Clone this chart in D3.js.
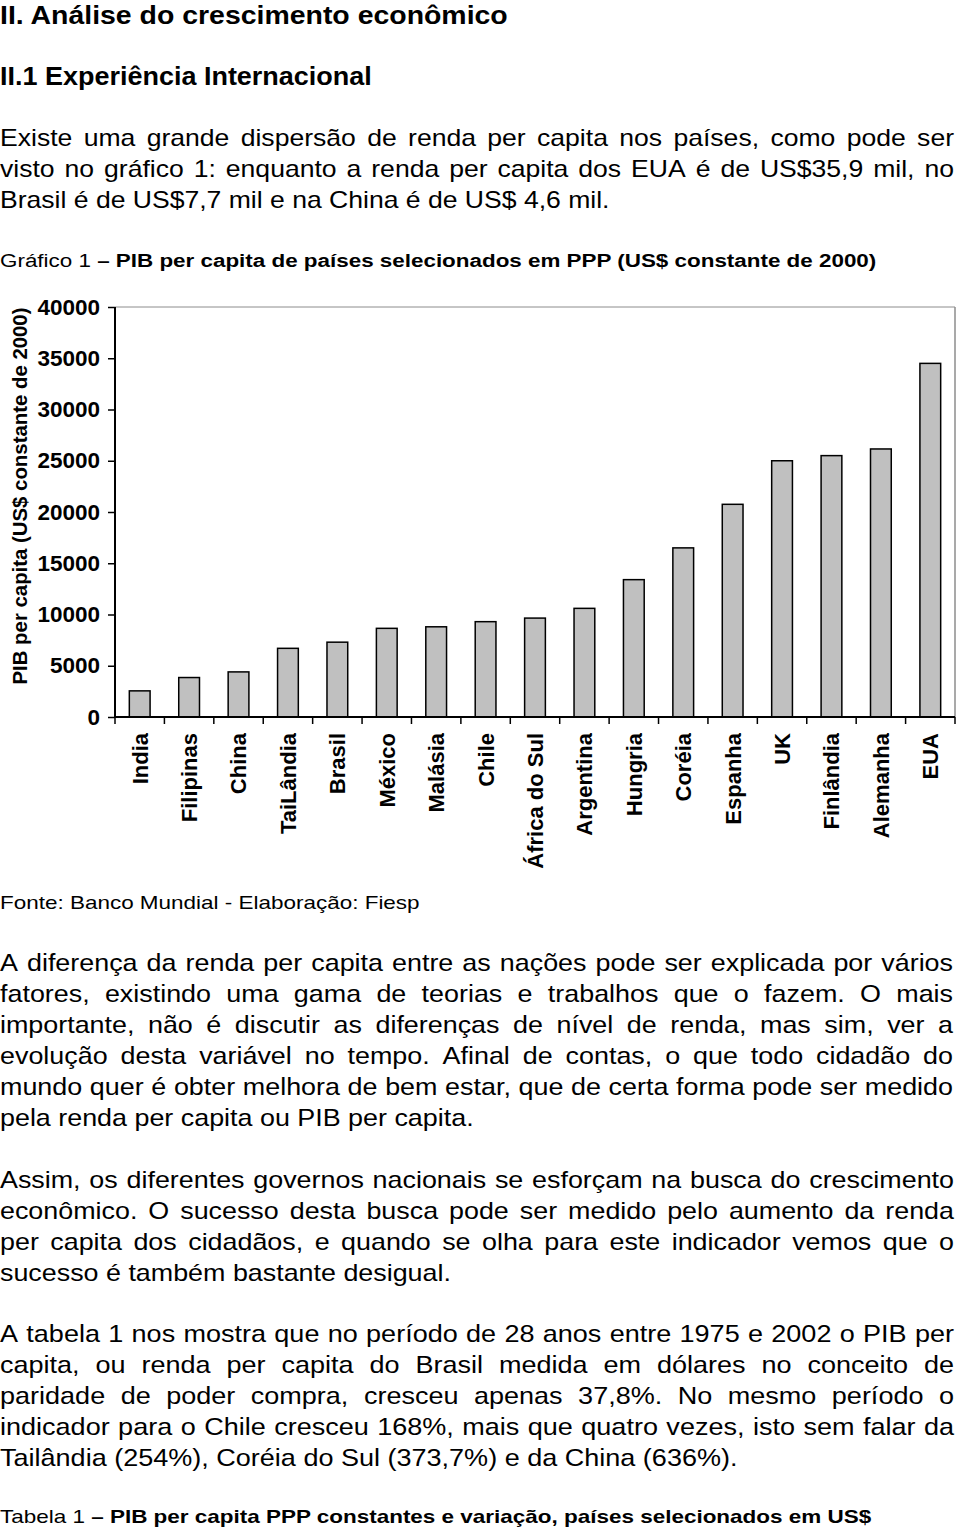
<!DOCTYPE html>
<html><head><meta charset="utf-8">
<script src="https://cdn.jsdelivr.net/npm/d3@7"></script>
<style>html,body{margin:0;padding:0;background:#fff;} svg{display:block;}</style>
</head><body>
<svg id="page" width="960" height="1528"></svg>
<script>
// ---------- DATA ----------
const categories = ["India","Filipinas","China","TaiLândia","Brasil","México","Malásia","Chile","África do Sul","Argentina","Hungria","Coréia","Espanha","UK","Finlândia","Alemanha","EUA"];
const values = [2550,3850,4400,6700,7300,8650,8800,9300,9650,10600,13400,16500,20750,25000,25500,26150,34500];
const yTicks = [0,5000,10000,15000,20000,25000,30000,35000,40000];
const yTitle = "PIB per capita (US$ constante de 2000)";

const heading1 = "II. Análise do crescimento econômico";
const heading2 = "II.1 Experiência Internacional";
const para1 = [
  "Existe uma grande dispersão de renda per capita nos países, como pode ser",
  "visto no gráfico 1: enquanto a renda per capita dos EUA é de US$35,9 mil, no",
  "Brasil é de US$7,7 mil e na China é de US$ 4,6 mil."
];
const chartTitleA = "Gráfico 1 ";
const chartTitleB = "– PIB per capita de países selecionados em PPP (US$ constante de 2000)";
const source = "Fonte: Banco Mundial - Elaboração: Fiesp";
const para2 = [
  "A diferença da renda per capita entre as nações pode ser explicada por vários",
  "fatores, existindo uma gama de teorias e trabalhos que o fazem. O mais",
  "importante, não é discutir as diferenças de nível de renda, mas sim, ver a",
  "evolução desta variável no tempo. Afinal de contas, o que todo cidadão do",
  "mundo quer é obter melhora de bem estar, que de certa forma pode ser medido",
  "pela renda per capita ou PIB per capita."
];
const para3 = [
  "Assim, os diferentes governos nacionais se esforçam na busca do crescimento",
  "econômico. O sucesso desta busca pode ser medido pelo aumento da renda",
  "per capita dos cidadãos, e quando se olha para este indicador vemos que o",
  "sucesso é também bastante desigual."
];
const para4 = [
  "A tabela 1 nos mostra que no período de 28 anos entre 1975 e 2002 o PIB per",
  "capita, ou renda per capita do Brasil medida em dólares no conceito de",
  "paridade de poder compra, cresceu apenas 37,8%. No mesmo período o",
  "indicador para o Chile cresceu 168%, mais que quatro vezes, isto sem falar da",
  "Tailândia (254%), Coréia do Sul (373,7%) e da China (636%)."
];
const tableTitleA = "Tabela 1 ";
const tableTitleB = "– PIB per capita PPP constantes e variação, países selecionados em US$";

(function () {
// ---------- LAYOUT ----------
const svg = d3.select("#page");
const FONT = "'Liberation Sans', Arial, sans-serif";

function scaledText(txt, x, y, w, size, weight) {
  const g = svg.append("g");
  const t = g.append("text").attr("font-family", FONT).attr("font-size", size)
    .attr("font-weight", weight || "normal").attr("fill", "#000").text(txt);
  const n = t.node().getComputedTextLength();
  const s = w / n;
  g.attr("transform", `translate(${x},${y}) scale(${s},1)`);
  return s;
}
function mixedText(a, b, x, y, w, size) {
  const g = svg.append("g");
  const t = g.append("text").attr("font-family", FONT).attr("font-size", size).attr("fill", "#000");
  t.append("tspan").text(a);
  t.append("tspan").attr("font-weight", "bold").text(b);
  const n = t.node().getComputedTextLength();
  g.attr("transform", `translate(${x},${y}) scale(${w / n},1)`);
}
function paragraph(lines, y0, lh, lastW, W, size) {
  const lastY = y0 + lh * (lines.length - 1);
  const sx = scaledText(lines[lines.length - 1], 0, lastY, lastW, size);
  lines.slice(0, -1).forEach((line, i) => {
    const g = svg.append("g").attr("transform", `translate(0,${y0 + lh * i}) scale(${sx},1)`);
    const words = line.split(" ");
    const nodes = words.map(wd => g.append("text").attr("font-family", FONT)
      .attr("font-size", size).attr("fill", "#000").text(wd));
    const widths = nodes.map(nd => nd.node().getComputedTextLength());
    const total = d3.sum(widths);
    const gap = (W / sx - total) / (words.length - 1);
    let cx = 0;
    nodes.forEach((nd, k) => { nd.attr("x", cx); cx += widths[k] + gap; });
  });
}

const BODY = 24;
scaledText(heading1, 0, 24, 508, 25, "bold");
scaledText(heading2, 0, 85, 372, 25, "bold");
paragraph(para1, 146, 31, 610, 954, BODY);
mixedText(chartTitleA, chartTitleB, 0, 267, 877, 19);
scaledText(source, 0, 909, 420, 19);
paragraph(para2, 971, 31, 474, 953, BODY);
paragraph(para3, 1188, 31, 451, 954, BODY);
paragraph(para4, 1342, 31, 738, 954, BODY);
mixedText(tableTitleA, tableTitleB, 0, 1523, 872, 19);

// ---------- CHART ----------
const pL = 115, pR = 955, pT = 307, pB = 717;
const x = d3.scaleBand().domain(categories).range([pL, pR]).paddingInner(0.58).paddingOuter(0.29);
const xb = d3.scaleBand().domain(categories).range([pL, pR]);
const y = d3.scaleLinear().domain([0, 40000]).range([pB, pT]);

const chart = svg.append("g");
chart.append("line").attr("x1", pL).attr("x2", pR).attr("y1", pT).attr("y2", pT)
  .attr("stroke", "#8c8c8c").attr("stroke-width", 1);
chart.append("line").attr("x1", pR).attr("x2", pR).attr("y1", pT).attr("y2", pB)
  .attr("stroke", "#8c8c8c").attr("stroke-width", 1.5);

chart.selectAll("rect.bar").data(values).join("rect").attr("class", "bar")
  .attr("x", (d, i) => x(categories[i]))
  .attr("width", x.bandwidth())
  .attr("y", d => y(d))
  .attr("height", d => pB - y(d))
  .attr("fill", "#c0c0c0").attr("stroke", "#000").attr("stroke-width", 1.5);

const yAxis = chart.append("g").attr("transform", `translate(${pL},0)`)
  .call(d3.axisLeft(y).tickValues(yTicks).tickSize(7).tickPadding(8).tickFormat(d3.format("d")));
yAxis.select(".domain").attr("stroke", "#000").attr("stroke-width", 2).attr("d", `M0,${pT}V${pB}`);
yAxis.selectAll(".tick line").attr("stroke", "#000").attr("stroke-width", 1.5);
yAxis.selectAll(".tick text").attr("font-family", FONT).attr("font-size", 22.5)
  .attr("font-weight", "bold").attr("fill", "#000");

const xAxis = chart.append("g");
xAxis.append("line").attr("x1", pL).attr("x2", pR).attr("y1", pB).attr("y2", pB)
  .attr("stroke", "#000").attr("stroke-width", 2);
const bounds = categories.map(c => xb(c)).concat([pR]);
xAxis.selectAll("line.tk").data(bounds).join("line").attr("class", "tk")
  .attr("x1", d => d).attr("x2", d => d).attr("y1", pB).attr("y2", pB + 7)
  .attr("stroke", "#000").attr("stroke-width", 1.5);
xAxis.selectAll("text.lbl").data(categories).join("text").attr("class", "lbl")
  .attr("transform", d => `translate(${xb(d) + xb.bandwidth() / 2},733) rotate(-90)`)
  .attr("text-anchor", "end").attr("dy", "0.36em")
  .attr("font-family", FONT).attr("font-size", 22).attr("font-weight", "bold").text(d => d);

svg.append("text").attr("transform", "translate(20,496) rotate(-90)")
  .attr("text-anchor", "middle").attr("dy", "0.36em")
  .attr("font-family", FONT).attr("font-size", 20).attr("font-weight", "bold")
  .attr("textLength", 377).attr("lengthAdjust", "spacingAndGlyphs").text(yTitle);
})();
</script>
</body></html>
